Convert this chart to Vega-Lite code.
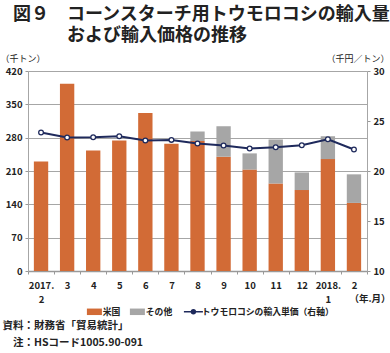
{
  "$schema": "https://vega.github.io/schema/vega-lite/v6.json",
  "width": 339,
  "height": 200,
  "autosize": {"type": "none"},
  "padding": {"left": 28, "top": 71, "right": 23, "bottom": 82},
  "background": "white",
  "config": {
    "font": "Noto Sans CJK JP",
    "view": {"stroke": null},
    "axis": {"labelFontWeight": "bold", "labelFontSize": 9.5, "labelColor": "#222", "titleColor": "#222"}
  },
  "title": {
    "text": ["図９　コーンスターチ用トウモロコシの輸入量", "\u200B　　　および輸入価格の推移"],
    "anchor": "start",
    "frame": "group",
    "dx": -15,
    "offset": 9,
    "fontSize": 18,
    "fontWeight": "bold",
    "lineHeight": 21,
    "color": "#222"
  },
  "datasets": {
    "bars": [
      {"month": "2017.2", "series": "米国", "value": 230},
      {"month": "3", "series": "米国", "value": 393},
      {"month": "4", "series": "米国", "value": 253},
      {"month": "5", "series": "米国", "value": 274},
      {"month": "6", "series": "米国", "value": 332},
      {"month": "7", "series": "米国", "value": 267},
      {"month": "8", "series": "米国", "value": 273},
      {"month": "8", "series": "その他", "value": 20},
      {"month": "9", "series": "米国", "value": 240},
      {"month": "9", "series": "その他", "value": 64},
      {"month": "10", "series": "米国", "value": 213},
      {"month": "10", "series": "その他", "value": 34},
      {"month": "11", "series": "米国", "value": 184},
      {"month": "11", "series": "その他", "value": 92},
      {"month": "12", "series": "米国", "value": 170},
      {"month": "12", "series": "その他", "value": 37},
      {"month": "2018.1", "series": "米国", "value": 235},
      {"month": "2018.1", "series": "その他", "value": 48},
      {"month": "2", "series": "米国", "value": 143},
      {"month": "2", "series": "その他", "value": 60}
    ],
    "price": [
      {"month": "2017.2", "price": 23.85},
      {"month": "3", "price": 23.35},
      {"month": "4", "price": 23.38},
      {"month": "5", "price": 23.48},
      {"month": "6", "price": 23.05},
      {"month": "7", "price": 23.11},
      {"month": "8", "price": 22.75},
      {"month": "9", "price": 22.55},
      {"month": "10", "price": 22.25},
      {"month": "11", "price": 22.38},
      {"month": "12", "price": 22.58},
      {"month": "2018.1", "price": 23.18},
      {"month": "2", "price": 22.15}
    ]
  },
  "resolve": {"scale": {"y": "independent"}, "axis": {"x": "independent"}},
  "layer": [
    {
      "data": {"name": "bars"},
      "mark": {"type": "bar", "width": {"band": 0.55}},
      "encoding": {
        "x": {
          "field": "month", "type": "nominal",
          "sort": ["2017.2", "3", "4", "5", "6", "7", "8", "9", "10", "11", "12", "2018.1", "2"],
          "scale": {"paddingInner": 0, "paddingOuter": 0},
          "axis": {
            "orient": "bottom",
            "labelAngle": 0,
            "labelExpr": "datum.value == '2017.2' ? ['2017.', '2'] : datum.value == '2018.1' ? ['2018.', '1'] : datum.value",
            "labelLineHeight": 14,
            "labelBaseline": "top",
            "labelPadding": 6,
            "tickBand": "extent",
            "tickSize": 3,
            "tickColor": "#999",
            "domainColor": "#999",
            "domainWidth": 1.5,
            "title": ["資料：財務省「貿易統計」", "\u200B　注：HSコード1005.90-091"],
            "titleAnchor": "start",
            "titleAlign": "left",
            "titleBaseline": "top",
            "titleX": -26,
            "titleY": 49,
            "titleFontSize": 10.5,
            "titleFontWeight": "bold",
            "titleLineHeight": 17
          }
        },
        "y": {
          "field": "value", "type": "quantitative", "stack": "zero",
          "scale": {"domain": [0, 420]},
          "axis": {
            "values": [0, 70, 140, 210, 280, 350, 420],
            "grid": true,
            "gridColor": "#A6A6A6",
            "domainColor": "#A6A6A6",
            "tickColor": "#999",
            "tickSize": 3,
            "labelPadding": 3,
            "title": "（千トン）",
            "titleAngle": 0,
            "titleAlign": "left",
            "titleBaseline": "middle",
            "titleX": -28,
            "titleY": -13,
            "titleFontSize": 9,
            "titleFontWeight": "normal"
          }
        },
        "color": {
          "field": "series", "type": "nominal",
          "sort": ["米国", "その他"],
          "scale": {
            "domain": ["米国", "その他", "トウモロコシの輸入単価（右軸）"],
            "range": ["#D26B36", "#A6A6A6", "#1F2A5C"]
          },
          "legend": {
            "orient": "none",
            "legendX": 62,
            "legendY": 236,
            "direction": "horizontal",
            "title": null,
            "symbolSize": 100,
            "labelFontSize": 8.8,
            "labelFontWeight": "bold",
            "labelColor": "#222",
            "labelOffset": 4,
            "columnPadding": 8,
            "encode": {
              "symbols": {
                "update": {
                  "shape": {"signal": "datum.value === 'トウモロコシの輸入単価（右軸）' ? 'M-1.9,0H-0.4M0.4,0H1.9M-0.4,0A0.4,0.4 0 1,0 0.4,0A0.4,0.4 0 1,0 -0.4,0' : 'M-1.5,-0.65H1.5V0.65H-1.5Z'"},
                  "fill": {"signal": "datum.value === 'トウモロコシの輸入単価（右軸）' ? 'white' : scale('color', datum.value)"},
                  "stroke": {"signal": "scale('color', datum.value)"},
                  "strokeWidth": {"signal": "datum.value === 'トウモロコシの輸入単価（右軸）' ? 1.4 : 0"},
                  "opacity": {"value": 1}
                }
              }
            }
          }
        },
        "order": {"field": "series", "sort": "descending"}
      }
    },
    {
      "data": {"name": "price"},
      "mark": {"type": "line", "strokeWidth": 2},
      "encoding": {
        "x": {
          "field": "month", "type": "nominal",
          "sort": ["2017.2", "3", "4", "5", "6", "7", "8", "9", "10", "11", "12", "2018.1", "2"],
          "axis": {
            "orient": "bottom",
            "labels": false, "ticks": false, "domain": false,
            "title": "（年.月）",
            "titleAnchor": "start",
            "titleAlign": "right",
            "titleBaseline": "middle",
            "titleX": 362,
            "titleY": 27,
            "titleFontSize": 9.5,
            "titleFontWeight": "bold"
          }
        },
        "y": {
          "field": "price", "type": "quantitative",
          "scale": {"domain": [10, 30]},
          "axis": {
            "orient": "right",
            "values": [10, 15, 20, 25, 30],
            "grid": false,
            "domainColor": "#A6A6A6",
            "tickColor": "#999",
            "tickSize": 3,
            "labelPadding": 3,
            "title": "（千円／トン）",
            "titleAngle": 0,
            "titleAlign": "right",
            "titleBaseline": "middle",
            "titleX": 22,
            "titleY": -13,
            "titleFontSize": 9,
            "titleFontWeight": "normal"
          }
        },
        "color": {"datum": "トウモロコシの輸入単価（右軸）"}
      }
    },
    {
      "data": {"name": "price"},
      "mark": {"type": "point", "filled": true, "fill": "white", "stroke": "#1F2A5C", "strokeWidth": 1.3, "size": 22, "opacity": 1},
      "encoding": {
        "x": {
          "field": "month", "type": "nominal",
          "sort": ["2017.2", "3", "4", "5", "6", "7", "8", "9", "10", "11", "12", "2018.1", "2"],
          "axis": null
        },
        "y": {"field": "price", "type": "quantitative", "scale": {"domain": [10, 30]}, "axis": null}
      }
    }
  ]
}
